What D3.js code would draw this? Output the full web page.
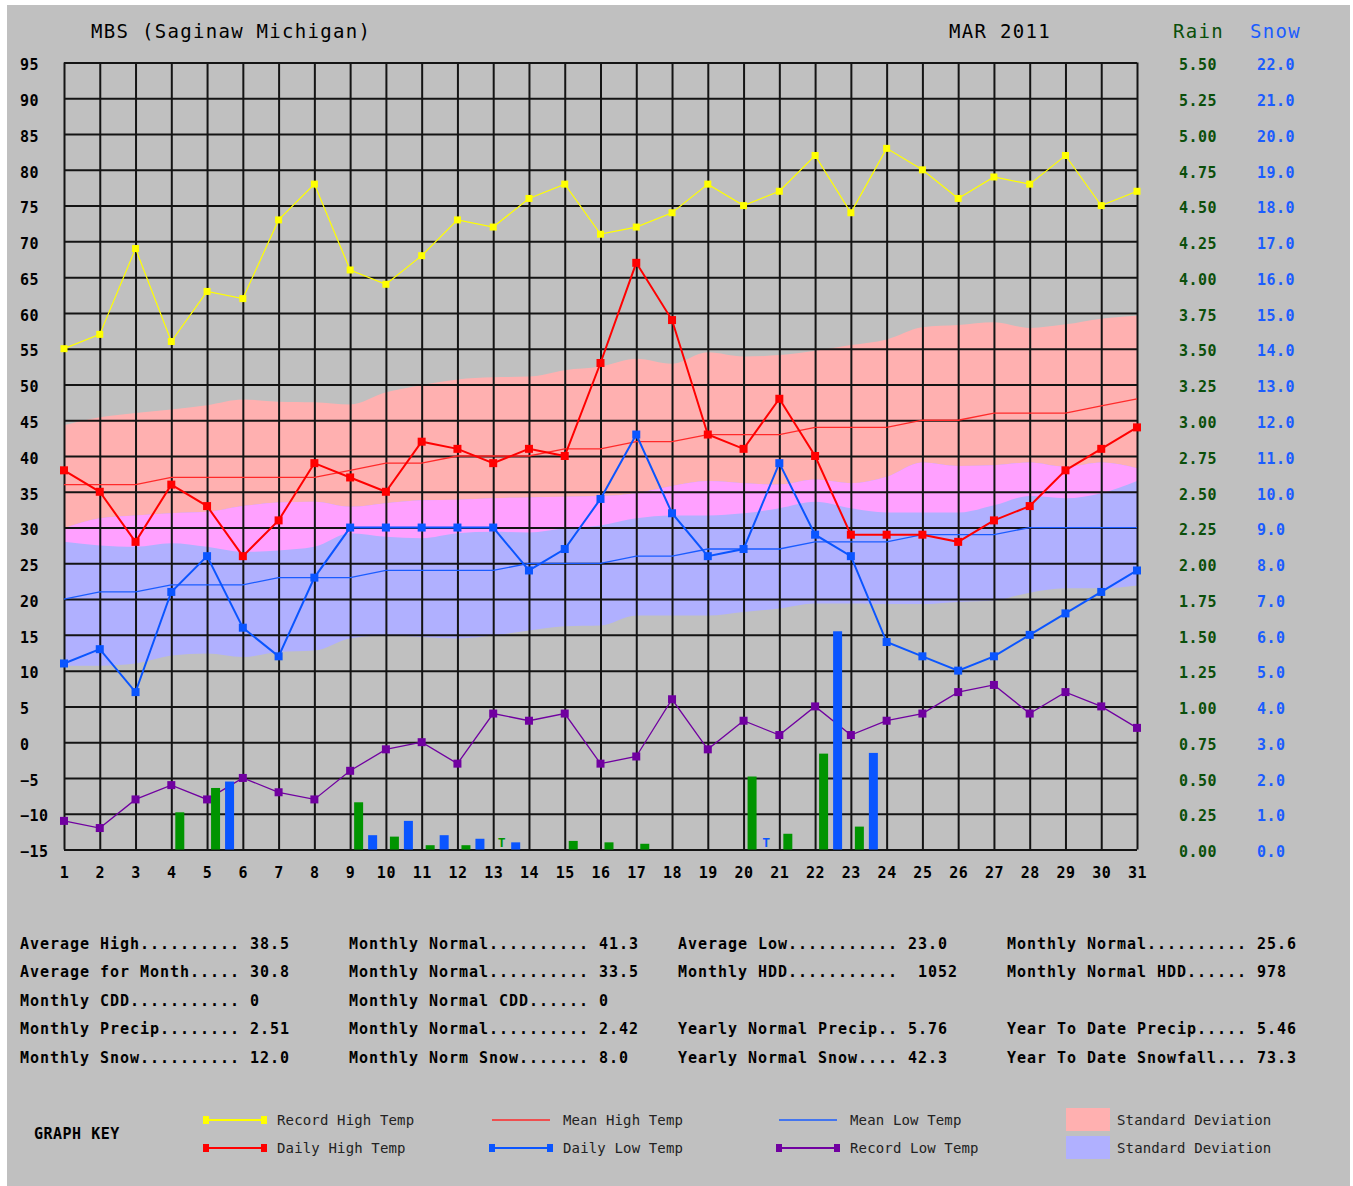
<!DOCTYPE html>
<html lang="en">
<head>
<meta charset="UTF-8">
<title>MBS (Saginaw Michigan) MAR 2011</title>
<script src="https://d3js.org/d3.v7.min.js"></script>
<style>
    body { margin: 0; background: #fff; }
    svg text { font-family: "DejaVu Sans Mono", "Liberation Mono", monospace; white-space: pre; }
</style>
</head>
<body>
<script>

    // ---- data ----
    let days = [1,2,3,4,5,6,7,8,9,10,11,12,13,14,15,16,17,18,19,20,21,22,23,24,25,26,27,28,29,30,31];
    let tempTicks = [-15,-10,-5,0,5,10,15,20,25,30,35,40,45,50,55,60,65,70,75,80,85,90,95];
    let rainTicks = [0,0.25,0.5,0.75,1,1.25,1.5,1.75,2,2.25,2.5,2.75,3,3.25,3.5,3.75,4,4.25,4.5,4.75,5,5.25,5.5];
    let snowTicks = [0,1,2,3,4,5,6,7,8,9,10,11,12,13,14,15,16,17,18,19,20,21,22];

    let recordHigh = [55,57,69,56,63,62,73,78,66,64,68,73,72,76,78,71,72,74,78,75,77,82,74,83,80,76,79,78,82,75,77];
    let dailyHigh  = [38,35,28,36,33,26,31,39,37,35,42,41,39,41,40,53,67,59,43,41,48,40,29,29,29,28,31,33,38,41,44];
    let meanHigh   = [36,36,36,37,37,37,37,37,38,39,39,40,40,40,41,41,42,42,43,43,43,44,44,44,45,45,46,46,46,47,48];
    let dailyLow   = [11,13,7,21,26,16,12,23,30,30,30,30,30,24,27,34,43,32,26,27,39,29,26,14,12,10,12,15,18,21,24];
    let meanLow    = [20,21,21,22,22,22,23,23,23,24,24,24,24,25,25,25,26,26,27,27,27,28,28,28,29,29,29,30,30,30,30];
    let recordLow  = [-11,-12,-8,-6,-8,-5,-7,-8,-4,-1,0,-3,4,3,4,-3,-2,6,-1,3,1,5,1,3,4,7,8,4,7,5,2];

    // standard deviation band edges
    let highSdTop = [44.3,45.4,46.0,46.5,47.1,47.9,47.6,47.5,47.2,48.9,49.9,50.7,51.0,51.1,52.0,52.5,53.6,52.9,54.5,53.9,54.1,54.7,55.5,56.3,58.0,58.3,58.7,57.9,58.4,59.2,59.6];
    let highSdLow = [28.0,27.5,27.3,27.8,27.3,26.6,26.8,27.3,29.2,28.7,28.5,29.2,29.4,29.3,29.9,30.3,31.3,31.7,31.7,32.0,32.7,33.6,32.7,32.1,32.1,32.1,33.1,34.4,34.1,34.8,36.5];
    let lowSdTop  = [29.9,31.3,31.7,32.0,32.2,33.0,33.5,33.6,32.9,33.4,33.8,33.9,34.1,34.2,34.3,34.4,34.8,35.8,36.5,36.2,36.0,36.7,36.2,37.1,39.1,38.6,38.7,39.1,38.5,39.1,38.3];
    let lowSdLow  = [10.7,10.7,11.0,12.1,12.4,11.9,12.6,12.8,14.5,14.9,14.7,14.5,14.9,15.6,16.2,16.3,17.7,17.7,17.7,18.2,18.7,19.4,19.4,19.3,19.3,19.6,19.8,20.9,21.5,21.5,21.9];

    // precipitation ("T" = trace)
    let rain = [0,0,0,0.26,0.43,0,0,0,0.33,0.09,0.03,0.03,"T",0,0.06,0.05,0.04,0,0,0.51,0.11,0.67,0.16,0,0,0,0,0,0,0,0];
    let snow = [0,0,0,0,1.9,0,0,0,0.4,0.8,0.4,0.3,0.2,0,0,0,0,0,0,"T",0,6.1,2.7,0,0,0,0,0,0,0,0];

    let statCol1 = ["Average High.......... 38.5", "Average for Month..... 30.8", "Monthly CDD........... 0", "Monthly Precip........ 2.51", "Monthly Snow.......... 12.0"];
    let statCol2 = ["Monthly Normal.......... 41.3", "Monthly Normal.......... 33.5", "Monthly Normal CDD...... 0", "Monthly Normal.......... 2.42", "Monthly Norm Snow....... 8.0"];
    let statCol3 = ["Average Low........... 23.0", "Monthly HDD...........  1052", "", "Yearly Normal Precip.. 5.76", "Yearly Normal Snow.... 42.3"];
    let statCol4 = ["Monthly Normal.......... 25.6", "Monthly Normal HDD...... 978", "", "Year To Date Precip..... 5.46", "Year To Date Snowfall... 73.3"];

    // ---- colours ----
    let gray = "#c0c0c0";
    let yellow = "#ffff00";
    let red = "#ff0000";
    let blue = "#0a55ff";
    let purple = "#7000a0";
    let green = "#009400";
    let pinkBand = "#ffb0b0";
    let blueBand = "#b0b0ff";
    let overlapBand = "#ffa0ff";
    let rainText = "#0b4f0b";
    let snowText = "#1a5cff";

    let plotLeft = 64, plotRight = 1137, plotTop = 62.5, plotBottom = 849.5;

    let svg = d3.select("body").append("svg")
        .attr("width", 1353).attr("height", 1186);

    svg.append("rect").attr("width", 1353).attr("height", 1186).attr("fill", "#fff");
    svg.append("rect").attr("x", 7).attr("y", 5).attr("width", 1343).attr("height", 1181).attr("fill", gray);

    let x = d3.scaleLinear().domain([1, 31]).range([plotLeft, plotRight]);
    let y = d3.scaleLinear().domain([-15, 95]).range([plotBottom, plotTop]);
    let yRain = d3.scaleLinear().domain([0, 5.5]).range([plotBottom, plotTop]);
    let ySnow = d3.scaleLinear().domain([0, 22]).range([plotBottom, plotTop]);

    // ---- standard deviation bands ----
    let bandArea = function (lo, hi) {
        return d3.area()
            .x(function (d, i) { return x(days[i]); })
            .y0(function (d, i) { return y(lo[i]); })
            .y1(function (d, i) { return y(hi[i]); })
            .curve(d3.curveMonotoneX);
    };
    svg.append("path").datum(days).attr("d", bandArea(highSdLow, highSdTop)).attr("fill", pinkBand);
    svg.append("path").datum(days).attr("d", bandArea(lowSdLow, lowSdTop)).attr("fill", blueBand);
    svg.append("path").datum(days).attr("d", bandArea(highSdLow, lowSdTop)).attr("fill", overlapBand);

    // ---- grid + axes ----
    let yAxis = svg.append("g")
        .attr("transform", "translate(" + plotLeft + ",0)")
        .call(d3.axisLeft(y).tickValues(tempTicks).tickSize(-(plotRight - plotLeft)).tickFormat(d3.format("d")));
    let xAxis = svg.append("g")
        .attr("transform", "translate(0," + plotBottom + ")")
        .call(d3.axisBottom(x).tickValues(days).tickSize(-(plotBottom - plotTop)).tickFormat(d3.format("d")));

    [yAxis, xAxis].forEach(function (a) {
        a.select(".domain").remove();
        a.selectAll(".tick line").attr("stroke", "#141414").attr("stroke-width", 2);
        a.selectAll("text")
            .attr("fill", "#000")
            .style("font-size", "15px")
            .style("font-weight", "bold")
            .style("letter-spacing", "0.5px");
    });
    yAxis.selectAll("text").attr("x", 20 - plotLeft).attr("text-anchor", "start").attr("y", 2).attr("dy", "0.35em");
    xAxis.selectAll("text").attr("y", 23).attr("dy", "0.35em");

    let rainAxis = svg.append("g")
        .attr("transform", "translate(" + plotRight + ",0)")
        .call(d3.axisRight(yRain).tickValues(rainTicks).tickSize(0).tickFormat(d3.format(".2f")));
    let snowAxis = svg.append("g")
        .attr("transform", "translate(" + plotRight + ",0)")
        .call(d3.axisRight(ySnow).tickValues(snowTicks).tickSize(0).tickFormat(d3.format(".1f")));
    [[rainAxis, 1179, rainText], [snowAxis, 1257, snowText]].forEach(function (p) {
        p[0].select(".domain").remove();
        p[0].selectAll("text")
            .attr("x", p[1] - plotRight).attr("text-anchor", "start").attr("y", 2).attr("dy", "0.35em")
            .attr("fill", p[2])
            .style("font-size", "15px")
            .style("font-weight", "bold")
            .style("letter-spacing", "0.5px");
    });

    // ---- series ----
    let line = d3.line()
        .x(function (d, i) { return x(days[i]); })
        .y(function (d) { return y(d); });

    let drawSeries = function (vals, color, width, size) {
        svg.append("path").datum(vals)
            .attr("d", line)
            .attr("fill", "none")
            .attr("stroke", color)
            .attr("stroke-width", width);
        if (!size) return;
        svg.append("g").selectAll("rect")
            .data(vals)
            .enter()
            .append("rect")
            .attr("x", function (d, i) { return x(days[i]) - size / 2; })
            .attr("y", function (d) { return y(d) - size / 2; })
            .attr("width", size)
            .attr("height", size)
            .attr("fill", color);
    };

    drawSeries(meanHigh, "#ff2a2a", 1.3, 0);
    drawSeries(meanLow, "#1a5cff", 1.3, 0);
    drawSeries(recordLow, purple, 1.3, 8);

    // precipitation bars
    let barW = 9;
    svg.append("g").selectAll("rect")
        .data(days.filter(function (d, i) { return typeof rain[i] === "number" && rain[i] > 0; }))
        .enter().append("rect")
        .attr("x", function (d) { return x(d) + 4; })
        .attr("y", function (d) { return yRain(rain[d - 1]); })
        .attr("width", barW)
        .attr("height", function (d) { return yRain(0) - yRain(rain[d - 1]); })
        .attr("fill", green);
    svg.append("g").selectAll("rect")
        .data(days.filter(function (d, i) { return typeof snow[i] === "number" && snow[i] > 0; }))
        .enter().append("rect")
        .attr("x", function (d) { return x(d) + 18; })
        .attr("y", function (d) { return ySnow(snow[d - 1]); })
        .attr("width", barW)
        .attr("height", function (d) { return ySnow(0) - ySnow(snow[d - 1]); })
        .attr("fill", blue);

    // trace markers
    let traceMark = function (vals, dx, color) {
        svg.append("g").selectAll("text")
            .data(days.filter(function (d, i) { return vals[i] === "T"; }))
            .enter().append("text")
            .attr("x", function (d) { return x(d) + dx; })
            .attr("y", plotBottom - 3)
            .attr("text-anchor", "middle")
            .attr("fill", color)
            .style("font-size", "13px")
            .style("font-weight", "bold")
            .text("T");
    };
    traceMark(rain, 8.5, green);
    traceMark(snow, 22.5, blue);

    drawSeries(recordHigh, yellow, 1.2, 7);
    drawSeries(dailyHigh, red, 2, 8);
    drawSeries(dailyLow, blue, 2, 8);

    // ---- titles ----
    let title = function (tx, ty, txt, color) {
        svg.append("text")
            .attr("x", tx).attr("y", ty).attr("dy", "0.35em")
            .attr("fill", color)
            .style("font-size", "19px")
            .style("letter-spacing", "1.3px")
            .text(txt);
    };
    title(91, 31, "MBS (Saginaw Michigan)", "#000");
    title(949, 31, "MAR 2011", "#000");
    title(1173, 31, "Rain", rainText);
    title(1250, 31, "Snow", snowText);

    // ---- statistics ----
    let statRows = [944, 972, 1001, 1029, 1058];
    [[20, statCol1], [349, statCol2], [678, statCol3], [1007, statCol4]].forEach(function (c) {
        svg.append("g").selectAll("text")
            .data(c[1])
            .enter().append("text")
            .attr("x", c[0])
            .attr("y", function (d, i) { return statRows[i]; })
            .attr("dy", "0.35em")
            .attr("fill", "#000")
            .style("font-size", "15px")
            .style("font-weight", "bold")
            .style("letter-spacing", "0.97px")
            .text(function (d) { return d; });
    });

    // ---- graph key ----
    svg.append("text")
        .attr("x", 34).attr("y", 1134).attr("dy", "0.35em")
        .style("font-size", "15px").style("font-weight", "bold").style("letter-spacing", "0.5px")
        .text("GRAPH KEY");

    let keyItems = [
        {label: "Record High Temp", color: yellow, col: 206, row: 1120, kind: "marker"},
        {label: "Daily High Temp", color: red, col: 206, row: 1148, kind: "marker"},
        {label: "Mean High Temp", color: "#ff2a2a", col: 492, row: 1120, kind: "line"},
        {label: "Daily Low Temp", color: blue, col: 492, row: 1148, kind: "marker"},
        {label: "Mean Low Temp", color: "#1a5cff", col: 779, row: 1120, kind: "line"},
        {label: "Record Low Temp", color: purple, col: 779, row: 1148, kind: "marker"},
        {label: "Standard Deviation", color: pinkBand, col: 1066, row: 1120, kind: "swatch"},
        {label: "Standard Deviation", color: blueBand, col: 1066, row: 1148, kind: "swatch"}
    ];
    keyItems.forEach(function (k) {
        let g = svg.append("g");
        let tx = k.col + 71;
        if (k.kind === "swatch") {
            g.append("rect").attr("x", k.col).attr("y", k.row - 12).attr("width", 44).attr("height", 23).attr("fill", k.color);
            tx = 1117;
        } else {
            g.append("line").attr("x1", k.col).attr("x2", k.col + 58).attr("y1", k.row).attr("y2", k.row)
                .attr("stroke", k.color).attr("stroke-width", k.kind === "marker" ? 2 : 1.5);
            if (k.kind === "marker") {
                [k.col, k.col + 58].forEach(function (mx) {
                    g.append("rect").attr("x", mx - 3).attr("y", k.row - 4).attr("width", 6).attr("height", 8).attr("fill", k.color);
                });
            }
        }
        g.append("text").attr("x", tx).attr("y", k.row).attr("dy", "0.35em")
            .attr("fill", "#222")
            .style("font-size", "14px")
            .style("letter-spacing", "0.15px")
            .text(k.label);
    });

</script>
</body>
</html>
